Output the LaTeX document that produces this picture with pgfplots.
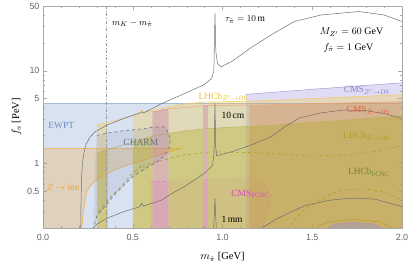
\documentclass[border=0pt]{standalone}
\usepackage{fontspec}
\setmainfont{Liberation Serif}
\newfontfamily\tickfont{Liberation Sans}
\usepackage{pgfplots}
\pgfplotsset{compat=1.18}
\definecolor{ewptc}{RGB}{100,140,200}
\definecolor{ewptl}{RGB}{105,140,195}
\definecolor{zinvc}{RGB}{240,160,40}
\definecolor{zinvl}{RGB}{240,170,70}
\definecolor{lavc}{RGB}{150,140,220}
\definecolor{lavl}{RGB}{140,130,205}
\definecolor{redc}{RGB}{215,105,65}
\definecolor{redl}{RGB}{230,100,70}
\definecolor{yelc}{RGB}{245,200,60}
\definecolor{yell}{RGB}{240,190,40}
\definecolor{olic}{RGB}{175,170,30}
\definecolor{olil}{RGB}{170,160,40}
\definecolor{fcncl}{RGB}{110,140,40}
\definecolor{magc}{RGB}{220,80,200}
\definecolor{magl}{RGB}{215,70,190}
\definecolor{charmc}{RGB}{120,130,165}
\definecolor{charml}{RGB}{110,110,120}
\definecolor{tauc}{RGB}{110,110,110}
\definecolor{framec}{RGB}{170,170,170}
\definecolor{tickc}{RGB}{100,100,100}
\begin{document}
\begin{tikzpicture}
\begin{axis}[
  width=359bp, height=222bp, scale only axis,
  xmin=0, xmax=2, ymin=0.2, ymax=50, ymode=log,
  xtick={0,0.5,1,1.5,2}, xticklabels={0.0,0.5,1.0,1.5,2.0},
  minor xtick={0.1,0.2,0.3,0.4,0.6,0.7,0.8,0.9,1.1,1.2,1.3,1.4,1.6,1.7,1.8,1.9},
  ytick={0.5,1,5,10,50}, yticklabels={0.5,1,5,10,50},
  minor ytick={0.2,0.3,0.4,0.6,0.7,0.8,0.9,2,3,4,6,7,8,9,20,30,40},
  tick align=inside,
  major tick length=4bp, minor tick length=2bp,
  axis line style={framec},
  tick style={framec},
  ticklabel style={font=\tickfont\fontsize{9}{10}\selectfont, text=tickc},
  xticklabel style={yshift=-3bp},
  xlabel={$m_{\hat\pi}$ [GeV]}, ylabel={$f_a$ [PeV]},
  label style={font=\fontsize{10.5}{12}\selectfont},
  xlabel style={yshift=-5bp},
  ylabel style={yshift=-1bp},
]
% EWPT
\addplot[draw=none, fill=ewptc, fill opacity=0.25] coordinates {(0,0.19) (0,4.4) (2,4.4) (2,0.19)} -- cycle;
\addplot[ewptl!60, line width=0.6pt] coordinates {(0,4.4) (2,4.4)};
% Z -> inv
\addplot[draw=none, fill=zinvc, fill opacity=0.25] coordinates {(0,0.19) (0,1.45) (0.77,1.45) (0.70,1.32) (0.6,1.15) (0.54,1.05) (0.45,0.93) (0.4,0.85) (0.336,0.74) (0.29,0.64) (0.26,0.56) (0.245,0.5) (0.235,0.4) (0.225,0.3) (0.22,0.25) (0.217,0.19)} -- cycle;
\addplot[zinvl, line width=0.5pt] coordinates {(0,1.45) (0.77,1.45) (0.70,1.32) (0.6,1.15) (0.54,1.05) (0.45,0.93) (0.4,0.85) (0.336,0.74) (0.29,0.64) (0.26,0.56) (0.245,0.5) (0.235,0.4) (0.225,0.3) (0.22,0.25) (0.217,0.19)};
% CMS Z' -> DS (lavender)
\addplot[draw=none, fill=lavc, fill opacity=0.3] coordinates {(1.13,0.19) (1.13,5.55) (1.5,6.3) (2.0,7.4) (2.0,0.19)} -- cycle;
\addplot[lavl!80, line width=0.5pt] coordinates {(1.13,5.55) (1.5,6.3) (2.0,7.4)};
% CMS Z -> DS (red) strips
\addplot[draw=none, fill=redc, fill opacity=0.36] coordinates {(0.61,0.19) (0.61,3.6) (0.7,3.9) (0.7,0.19)} -- cycle;
\addplot[draw=none, fill=redc, fill opacity=0.36] coordinates {(0.89,0.19) (0.89,4.2) (0.92,4.25) (0.92,0.19)} -- cycle;
\addplot[draw=none, fill=redc, fill opacity=0.3] coordinates {(1.15,0.19) (1.15,4.2) (1.25,4.27) (1.6,4.45) (2.0,4.63) (2.0,0.19)} -- cycle;
\addplot[redl!70, line width=0.5pt] coordinates {(0.61,3.6) (0.7,3.9) (0.8,4.0) (0.9,4.2) (1.0,4.22) (1.25,4.27) (1.6,4.45) (2.0,4.63)};
% CMS FCNC (magenta)
\addplot[draw=none, fill=magc, fill opacity=0.12] coordinates {(0.6,0.19) (0.6,0.63) (0.9,0.68) (1.14,0.71) (1.2,0.65) (1.25,0.55) (1.27,0.43) (1.25,0.3) (1.22,0.19)} -- cycle;
\addplot[magl!80, dashed, line width=0.6pt] coordinates {(0.6,0.63) (0.7,0.64)};
\addplot[magl!80, dashed, line width=0.6pt] coordinates {(1.14,0.71) (1.2,0.65) (1.25,0.55) (1.27,0.43) (1.25,0.3) (1.22,0.19)};
% LHCb Z' -> DS (yellow) strips
\addplot[draw=none, fill=yelc, fill opacity=0.3] coordinates {(0.30,0.19) (0.30,2.6) (0.36,2.75) (0.36,0.19)} -- cycle;
\addplot[draw=none, fill=yelc, fill opacity=0.3] coordinates {(0.50,0.19) (0.50,3.3) (0.54,3.5) (0.55,3.75) (0.56,3.55) (0.61,3.75) (0.61,0.19)} -- cycle;
\addplot[draw=none, fill=yelc, fill opacity=0.3] coordinates {(0.70,0.19) (0.70,4.1) (0.80,4.4) (0.89,4.55) (0.89,0.19)} -- cycle;
\addplot[draw=none, fill=yelc, fill opacity=0.3] coordinates {(0.92,0.19) (0.92,4.6) (1.0,4.62) (1.25,4.75) (1.5,5.0) (2.0,5.5) (2.0,0.19)} -- cycle;
\addplot[yell!80, line width=0.5pt] coordinates {(0.30,2.6) (0.36,2.75) (0.45,3.05) (0.50,3.3) (0.54,3.5) (0.55,3.75) (0.56,3.55) (0.61,3.75) (0.70,4.1) (0.80,4.4) (0.89,4.55) (0.92,4.6) (1.0,4.62) (1.25,4.75) (1.5,5.0) (2.0,5.5)};
% LHCb Z -> DS (olive) strips
\addplot[draw=none, fill=olic, fill opacity=0.35] coordinates {(0.30,0.19) (0.30,1.28) (0.36,1.4) (0.36,0.19)} -- cycle;
\addplot[draw=none, fill=olic, fill opacity=0.35] coordinates {(0.50,0.19) (0.50,1.7) (0.61,1.95) (0.61,0.19)} -- cycle;
\addplot[draw=none, fill=olic, fill opacity=0.35] coordinates {(0.70,0.19) (0.70,2.1) (0.80,2.25) (0.89,2.33) (0.89,0.19)} -- cycle;
\addplot[draw=none, fill=olic, fill opacity=0.35] coordinates {(0.92,0.19) (0.92,2.37) (1.0,2.42) (1.15,2.5) (1.25,2.55) (1.6,2.85) (2.0,3.25) (2.0,0.19)} -- cycle;
\addplot[olil!80, line width=0.5pt] coordinates {(0.30,1.28) (0.36,1.4) (0.5,1.7) (0.61,1.95) (0.7,2.1) (0.8,2.25) (0.9,2.35) (1.0,2.42) (1.15,2.5) (1.25,2.55) (1.6,2.85) (2.0,3.25)};
% LHCb FCNC (dashed)
\addplot[olil, dashed, line width=0.6pt] coordinates {(0.31,0.3) (0.36,0.4) (0.43,0.55) (0.5,0.78) (0.54,0.9) (0.55,0.97) (0.56,0.92) (0.6,1.0) (0.7,1.12) (0.77,1.22) (0.94,1.33) (1.2,1.30) (1.5,1.2) (1.7,1.22) (1.85,1.35) (2.0,1.55)};
\addplot[olil, dashed, line width=0.6pt] coordinates {(1.36,0.19) (1.42,0.27) (1.48,0.34) (1.53,0.39) (1.6,0.46) (1.66,0.51) (1.79,0.53) (1.9,0.49) (1.94,0.45) (2.0,0.40)};
% bottom-right small region
\addplot[draw=none, fill=lavc, fill opacity=0.4] coordinates {(1.56,0.19) (1.62,0.225) (1.73,0.235) (1.84,0.225) (1.92,0.19)} -- cycle;
\addplot[olil, line width=0.5pt] coordinates {(1.50,0.19) (1.58,0.232) (1.73,0.248) (1.88,0.232) (1.97,0.19)};
\addplot[zinvl, line width=0.4pt] coordinates {(1.55,0.19) (1.62,0.227) (1.73,0.238) (1.85,0.227) (1.93,0.19)};
% CHARM
\addplot[draw=none, fill=charmc, fill opacity=0.15] coordinates {(0.28,0.19) (0.30,0.27) (0.40,0.46) (0.50,0.72) (0.58,0.9) (0.64,1.05) (0.68,1.22) (0.705,1.5) (0.71,1.85) (0.69,2.3) (0.67,2.48) (0.60,2.45) (0.59,2.38) (0.55,2.35) (0.45,2.25) (0.36,2.12) (0.30,2.0) (0.29,1.0) (0.285,0.5)} -- cycle;
\addplot[charml, dashed, line width=0.6pt] coordinates {(0.28,0.19) (0.30,0.27) (0.40,0.46) (0.50,0.72) (0.58,0.9) (0.64,1.05) (0.68,1.22) (0.705,1.5) (0.71,1.85) (0.69,2.3) (0.67,2.48) (0.60,2.45) (0.59,2.38) (0.55,2.35) (0.45,2.25) (0.36,2.12) (0.30,2.0)};
% m_K - m_pi line
\addplot[gray!80, dash dot, line width=0.6pt] coordinates {(0.354,0.19) (0.354,50)};
% lifetime contours
\addplot[tauc, line width=0.5pt] coordinates {(0.21,0.19) (0.212,0.4) (0.215,0.7) (0.22,1.0) (0.228,1.3) (0.24,1.6) (0.26,1.9) (0.29,2.19) (0.357,2.59) (0.45,3.05) (0.54,3.5) (0.55,3.6) (0.56,3.5) (0.66,4.4) (0.8,5.8) (0.9,7.1) (0.94,8.3) (0.952,10) (0.958,42) (0.963,16) (0.972,12) (0.99,11) (1.05,12.5) (1.16,17.8) (1.28,25) (1.40,34) (1.55,40) (1.76,43.6) (1.9,40) (2.0,34)};
\addplot[tauc, line width=0.5pt] coordinates {(0.27,0.19) (0.3,0.22) (0.357,0.255) (0.45,0.3) (0.54,0.34) (0.55,0.37) (0.56,0.345) (0.66,0.40) (0.7,0.45) (0.8,0.58) (0.9,0.78) (0.945,0.95) (0.953,1.3) (0.958,4.5) (0.962,1.5) (0.968,1.2) (0.98,1.22) (1.05,1.33) (1.15,1.55) (1.27,1.93) (1.35,2.5) (1.43,3.1) (1.55,3.5) (1.67,3.76) (1.8,3.7) (1.9,3.45) (2.0,3.06)};
\addplot[tauc, line width=0.5pt] coordinates {(0.95,0.19) (0.955,0.3) (0.958,0.42) (0.961,0.3) (0.966,0.19)};
\addplot[tauc, line width=0.5pt] coordinates {(1.20,0.19) (1.3,0.25) (1.46,0.35) (1.6,0.40) (1.72,0.42) (1.85,0.41) (2.0,0.34)};
% labels
\node[anchor=west, text=ewptl, font=\fontsize{9.5}{11}\selectfont] at (axis cs:0.01,2.55) {EWPT};
\node[anchor=west, text=zinvc, font=\fontsize{9.5}{11}\selectfont] at (axis cs:0.0,0.55) {$Z\to$ inv};
\node[text=charml, font=\fontsize{9.5}{11}\selectfont] at (axis cs:0.545,1.7) {CHARM};
\node[anchor=west, font=\fontsize{9.5}{11}\selectfont] at (axis cs:0.365,32.5) {$m_K - m_{\hat\pi}$};
\node[anchor=west, font=\fontsize{9.5}{11}\selectfont] at (axis cs:0.995,35.5) {$\tau_{\hat\pi} = 10\,$m};
\node[anchor=east, font=\fontsize{10}{11}\selectfont] at (axis cs:1.915,26) {$M_{Z'} = 60$ GeV};
\node[anchor=east, font=\fontsize{10}{11}\selectfont] at (axis cs:1.86,17.8) {$f_{\hat\pi} = 1$ GeV};
\node[anchor=west, text=yell, font=\fontsize{9.5}{11}\selectfont, inner sep=1pt] at (axis cs:0.86,5.25) {LHCb$_{Z'\to\mathrm{DS}}$};
\node[anchor=east, text=lavl, font=\fontsize{9.5}{11}\selectfont] at (axis cs:1.95,6.1) {CMS$_{Z'\to\mathrm{DS}}$};
\node[anchor=east, text=redl, font=\fontsize{9.5}{11}\selectfont] at (axis cs:1.95,3.7) {CMS$_{Z\to\mathrm{DS}}$};
\node[anchor=west, font=\fontsize{9.5}{11}\selectfont] at (axis cs:0.975,3.33) {10\,cm};
\node[anchor=east, text=olil, font=\fontsize{9.5}{11}\selectfont] at (axis cs:1.95,1.95) {LHCb$_{Z\to\mathrm{DS}}$};
\node[anchor=east, text=fcncl, font=\fontsize{9.5}{11}\selectfont] at (axis cs:1.95,0.8) {LHCb$_{\mathrm{FCNC}}$};
\node[anchor=west, text=magl, font=\fontsize{9.5}{11}\selectfont] at (axis cs:1.03,0.47) {CMS$_{\mathrm{FCNC}}$};
\node[anchor=west, font=\fontsize{9.5}{11}\selectfont] at (axis cs:0.975,0.245) {1\,mm};
\end{axis}
\pgfresetboundingbox
\path[use as bounding box] ([xshift=-43bp,yshift=-41bp]current axis.south west) rectangle ([xshift=9bp,yshift=6bp]current axis.north east);
\end{tikzpicture}
\end{document}
